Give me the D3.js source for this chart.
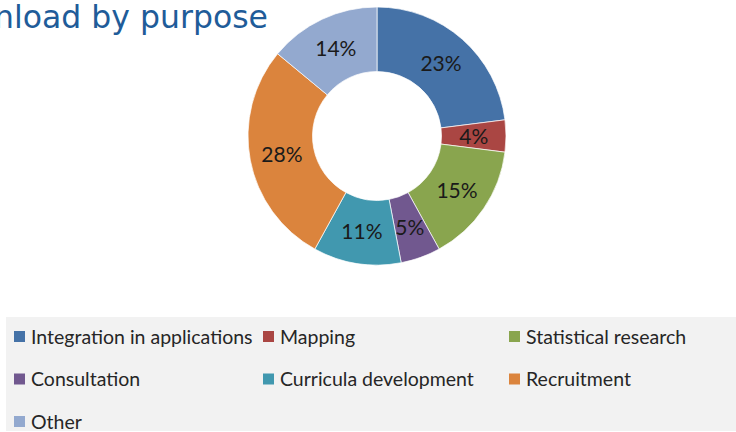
<!DOCTYPE html>
<html>
<head>
<meta charset="utf-8">
<script src="https://cdn.jsdelivr.net/npm/d3@7.9.0/dist/d3.min.js"></script>
<style>
  html, body { margin: 0; padding: 0; background: #fff; }
  svg { display: block; }
</style>
</head>
<body>
<svg id="chart" width="736" height="432"></svg>
<script>
const categories = [
  "Integration in applications",
  "Mapping",
  "Statistical research",
  "Consultation",
  "Curricula development",
  "Recruitment",
  "Other",
];
const shares = [23, 4, 15, 5, 11, 28, 14];
const colors = ["#4572A7", "#AA4643", "#89A54E", "#71588F", "#4198AF", "#DB843D", "#93A9CF"];
const title = "Download by purpose";

const data = categories.map((name, i) => ({ name, value: shares[i], color: colors[i] }));

const svg = d3.select("#chart");

// title, partly cut off at the left like the original slide
svg.append("text")
  .attr("x", 268)
  .attr("y", 28)
  .attr("text-anchor", "end")
  .attr("font-family", "DejaVu Sans, Verdana, sans-serif")
  .attr("font-size", 31.5)
  .attr("fill", "#1F5C99")
  .text(title);

const cx = 377, cy = 136, outerR = 129, innerR = 64.5;

const pie = d3.pie().sort(null).value((d) => d.value);
const arc = d3.arc().innerRadius(innerR).outerRadius(outerR);
const labelArc = d3.arc().innerRadius((innerR + outerR) / 2).outerRadius((innerR + outerR) / 2);

const g = svg.append("g").attr("transform", `translate(${cx},${cy})`);

const arcs = pie(data);

g.selectAll("path")
  .data(arcs)
  .join("path")
  .attr("d", arc)
  .attr("fill", (d) => d.data.color)
  .attr("stroke", "#fff")
  .attr("stroke-width", 0.7);

g.selectAll("text")
  .data(arcs)
  .join("text")
  .attr("transform", (d) => `translate(${labelArc.centroid(d)})`)
  .attr("text-anchor", "middle")
  .attr("dy", "0.36em")
  .attr("font-family", "Lato, Open Sans, sans-serif")
  .attr("font-size", 21)
  .attr("fill", "#1a1a1a")
  .text((d) => `${d.data.value}%`);

// legend box
const legend = svg.append("g");
legend.append("rect")
  .attr("x", 6)
  .attr("y", 317)
  .attr("width", 730)
  .attr("height", 114)
  .attr("fill", "#F2F2F2");

const colX = [14, 263, 509];
const rowY = d3.scaleLinear().domain([0, 1]).range([337, 379.5]);

const items = legend.selectAll("g.item")
  .data(data)
  .join("g")
  .attr("class", "item")
  .attr("transform", (d, i) => `translate(${colX[i % 3]},${rowY(Math.floor(i / 3))})`);

items.append("rect")
  .attr("x", 0)
  .attr("y", -6)
  .attr("width", 11)
  .attr("height", 11)
  .attr("fill", (d) => d.color);

items.append("text")
  .attr("x", 17)
  .attr("dy", "0.35em")
  .attr("font-family", "Lato, Open Sans, sans-serif")
  .attr("font-size", 19.5)
  .attr("fill", "#262626")
  .text((d) => d.name);
</script>
</body>
</html>
